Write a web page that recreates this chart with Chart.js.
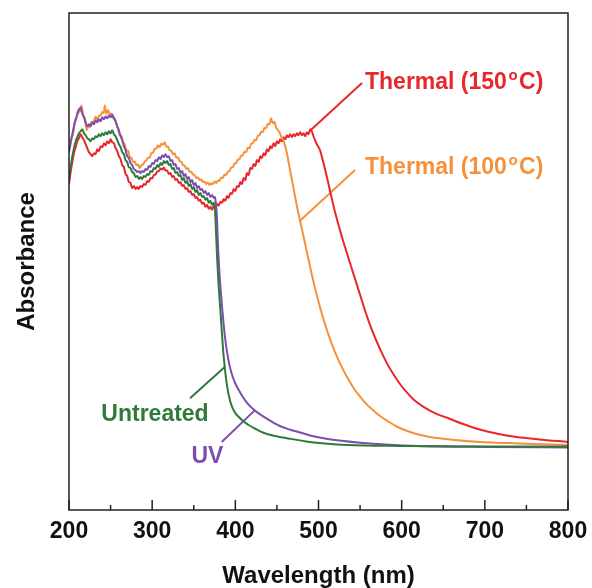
<!DOCTYPE html>
<html>
<head>
<meta charset="utf-8">
<script src="https://cdn.jsdelivr.net/npm/chart.js@4.4.1/dist/chart.umd.min.js"></script>
<style>
  html, body { margin: 0; padding: 0; background: #fff; }
  #wrap { width: 592px; height: 588px; }
</style>
</head>
<body>
<div id="wrap"><canvas id="spectra" width="592" height="588"></canvas></div>
<script>
// ── COLOURS ──
const COLORS = {
  red:    '#E8262B',
  orange: '#F5913C',
  green:  '#2E7A3B',
  purple: '#7E4DB2',
  frame:  '#222222',
  text:   '#111111'
};
const FONT = "'Liberation Sans', Arial, sans-serif";

// ── AXIS TICKS ──
const majorTicks = [200, 300, 400, 500, 600, 700, 800];
const minorTicks = [250, 350, 450, 550, 650, 750];

// ── UNTREATED ──
const wlUntreated = [200,202,204,206,208,210,212,214,216,218,220,222,224,226,228,230,232,234,236,238,240,242,244,246,248,250,252,254,256,258,260,262,264,266,268,270,272,274,276,278,280,282,284,286,288,290,292,294,296,298,300,302,304,306,308,310,312,314,316,318,320,322,324,326,328,330,332,334,336,338,340,342,344,346,348,350,352,354,356,358,360,362,364,366,368,370,372,374,
  375,376,377,378,379.5,381,382.5,384,385.5,387,389,391.5,394,397,400,403.6,410,416,423.6,433,445,463.7,485,507.8,534,600,700,800];
const absUntreated = [0.670,0.690,0.712,0.728,0.742,0.750,0.758,0.762,0.766,0.758,0.754,0.748,0.746,0.742,0.748,0.746,0.752,0.750,0.756,0.752,0.758,0.754,0.760,0.756,0.762,0.758,0.764,0.756,0.752,0.744,0.736,0.730,0.720,0.716,0.704,0.700,0.690,0.688,0.680,0.678,0.670,0.672,0.666,0.670,0.666,0.672,0.670,0.676,0.674,0.682,0.680,0.688,0.686,0.694,0.690,0.698,0.694,0.702,0.698,0.702,0.694,0.696,0.686,0.688,0.678,0.680,0.672,0.674,0.664,0.668,0.658,0.662,0.652,0.656,0.646,0.650,0.640,0.644,0.634,0.638,0.630,0.632,0.624,0.628,0.618,0.622,0.614,0.618,
  0.612,0.590,0.550,0.510,0.463,0.425,0.390,0.352,0.318,0.292,0.262,0.236,0.218,0.204,0.195,0.188,0.178,0.171,0.164,0.156,0.150,0.144,0.138,0.134,0.131,0.129,0.128,0.128];

// ── UV ──
const wlUV = [200,202,204,206,208,210,212,214,216,218,220,222,224,226,228,230,232,234,236,238,240,242,244,246,248,250,252,254,256,258,260,262,264,266,268,270,272,274,276,278,280,282,284,286,288,290,292,294,296,298,300,302,304,306,308,310,312,314,316,318,320,322,324,326,328,330,332,334,336,338,340,342,344,346,348,350,352,354,356,358,360,362,364,366,368,370,372,374,
  375.5,376.5,377.6,378.5,379.5,381,382.5,384,386,388,390,392.5,395.5,399.6,405.6,411.6,417,423.6,433,443.7,455,465,475.7,490,507.8,525,553.5,580,620,700,800];
const absUV = [0.720,0.738,0.756,0.772,0.786,0.796,0.806,0.810,0.798,0.790,0.780,0.772,0.776,0.772,0.780,0.776,0.784,0.780,0.786,0.782,0.790,0.786,0.792,0.788,0.794,0.790,0.796,0.788,0.782,0.772,0.764,0.752,0.744,0.732,0.724,0.712,0.708,0.698,0.694,0.686,0.684,0.680,0.682,0.678,0.682,0.680,0.686,0.684,0.692,0.690,0.698,0.696,0.704,0.702,0.710,0.706,0.714,0.710,0.716,0.710,0.712,0.702,0.704,0.694,0.696,0.686,0.688,0.678,0.682,0.672,0.676,0.666,0.670,0.660,0.664,0.654,0.658,0.648,0.652,0.644,0.646,0.638,0.642,0.634,0.638,0.630,0.634,0.628,
  0.630,0.618,0.598,0.560,0.520,0.475,0.440,0.410,0.372,0.342,0.318,0.295,0.275,0.256,0.237,0.221,0.210,0.200,0.189,0.178,0.168,0.162,0.157,0.150,0.144,0.140,0.135,0.132,0.129,0.127,0.126];

// ── THERMAL 100 C ──
const wlThermal100 = [200,203,205,207,209,211,213,215,217,219,221,223,225,227,229,232,234,236,238,240,242,243,245,247,249,251,253,
  255,257,259,261,263,265,267,269,271,273,275,277,279,281,283,285,287,289,291,293,295,297,299,301,303,305,307,309,311,313,315,317,319,321,323,325,327,329,331,333,335,337,339,341,343,345,347,349,351,353,355,357,359,361,363,365,367,369,371,373,375,377,379,381,383,385,387,389,391,393,395,397,399,401,403,405,407,409,411,413,415,417,419,421,423,425,427,429,431,433,435,437,439,441,443,445,447,449,451,453,455,
  457.7,460,462,464,467.8,471,474,477.8,481,484,487.5,491.8,495,498,501,504,508,512,516,520,525,530,535.5,542,549,556,564,574,584,594,605,620,634,664,694,740,800];
const absThermal100 = [0.735,0.750,0.757,0.781,0.788,0.804,0.801,0.814,0.794,0.789,0.764,0.772,0.770,0.781,0.779,0.791,0.785,0.793,0.794,0.801,0.799,0.814,0.797,0.805,0.795,0.798,0.789,
  0.788,0.777,0.766,0.754,0.753,0.740,0.736,0.724,0.723,0.710,0.709,0.700,0.701,0.694,0.695,0.688,0.694,0.695,0.701,0.703,0.709,0.709,0.718,0.719,0.727,0.727,0.734,0.730,0.737,0.735,0.740,0.731,0.731,0.724,0.723,0.716,0.718,0.709,0.710,0.702,0.701,0.694,0.693,0.686,0.688,0.680,0.681,0.675,0.674,0.668,0.669,0.664,0.665,0.660,0.661,0.656,0.659,0.654,0.657,0.656,0.661,0.658,0.663,0.662,0.669,0.668,0.675,0.674,0.681,0.682,0.689,0.690,0.697,0.698,0.705,0.706,0.713,0.714,0.721,0.720,0.729,0.728,0.737,0.738,0.745,0.744,0.753,0.754,0.761,0.760,0.769,0.768,0.777,0.776,0.788,0.778,0.781,0.770,0.765,0.760,0.752,
  0.744,0.732,0.718,0.700,0.666,0.638,0.612,0.582,0.558,0.535,0.508,0.475,0.452,0.432,0.413,0.395,0.373,0.353,0.334,0.317,0.298,0.281,0.264,0.246,0.230,0.216,0.203,0.189,0.178,0.168,0.160,0.152,0.147,0.141,0.137,0.134,0.131];

// ── THERMAL 150 C ──
const wlThermal150 = [200,202,204,206,208,210,212,214,216,218,220,222,224,226,228,230,232,234,236,238,240,242,244,246,248,250,252,254,256,258,260,262,264,266,268,270,272,274,276,278,280,282,284,286,288,290,292,294,296,298,300,302,304,306,308,310,312,314,316,318,320,322,324,326,328,330,332,334,336,338,340,342,344,346,348,350,352,354,356,358,360,362,364,366,368,370,372,374,376,378,380,382,384,386,388,390,392,394,396,398,400,402,404,406,408,410,412,414,416,418,420,422,424,426,428,430,432,434,436,438,440,442,444,446,448,450,452,454,456,458,460,462,464,466,468,470,472,474,476,478,480,482,484,486,488,
  490,492,494,495.8,498,501.8,504,507.8,510.8,513.8,516.8,519.8,524,527.9,533,537.9,543,547.9,553,558,562,566,570,574,579,584,589,594,600,607,614,624,634,644,654,674,694,714,734,765,800];
const absThermal150 = [0.655,0.680,0.700,0.718,0.730,0.742,0.748,0.756,0.750,0.744,0.736,0.728,0.720,0.716,0.712,0.718,0.716,0.726,0.722,0.732,0.730,0.738,0.734,0.742,0.738,0.746,0.740,0.738,0.728,0.722,0.712,0.706,0.694,0.690,0.676,0.672,0.660,0.658,0.648,0.652,0.646,0.650,0.646,0.652,0.650,0.656,0.654,0.662,0.660,0.668,0.667,0.674,0.675,0.681,0.682,0.687,0.685,0.689,0.683,0.683,0.676,0.678,0.670,0.672,0.664,0.666,0.658,0.660,0.652,0.654,0.646,0.648,0.640,0.642,0.634,0.636,0.628,0.630,0.622,0.624,0.616,0.618,0.610,0.614,0.606,0.610,0.604,0.612,0.608,0.616,0.612,0.620,0.618,0.626,0.622,0.632,0.628,0.638,0.636,0.646,0.642,0.652,0.650,0.660,0.656,0.668,0.664,0.678,0.674,0.688,0.686,0.696,0.692,0.704,0.700,0.712,0.708,0.718,0.714,0.726,0.722,0.732,0.728,0.738,0.732,0.742,0.738,0.746,0.742,0.750,0.746,0.754,0.750,0.756,0.750,0.756,0.752,0.758,0.754,0.760,0.754,0.758,0.752,0.760,0.756,
  0.766,0.762,0.752,0.744,0.736,0.724,0.711,0.686,0.665,0.643,0.621,0.600,0.574,0.551,0.523,0.497,0.470,0.444,0.417,0.391,0.372,0.355,0.339,0.324,0.306,0.290,0.276,0.263,0.249,0.235,0.223,0.210,0.200,0.192,0.186,0.173,0.162,0.154,0.148,0.142,0.137];

// ── LABEL POINTERS (wavelength, absorbance) ──
const ptrThermal150 = [[489.8, 0.763], [552.3, 0.859]];
const ptrThermal100 = [[477.8, 0.582], [543.9, 0.684]];
const ptrUntreated  = [[345.5, 0.225], [387.6, 0.288]];
const ptrUV         = [[383.6, 0.137], [423.6, 0.201]];

// ── SERIES LABELS (anchor wavelength, absorbance) ──
const seriesLabels = [
  { text: 'Thermal (150', sup: 'o', tail: 'C)', x: 555.9, y: 0.859, color: COLORS.red,    align: 'left' },
  { text: 'Thermal (100', sup: 'o', tail: 'C)', x: 555.9, y: 0.688, color: COLORS.orange, align: 'left' },
  { text: 'Untreated', x: 303.4, y: 0.191, color: COLORS.green,  align: 'center' },
  { text: 'UV',        x: 366.5, y: 0.107, color: COLORS.purple, align: 'center' }
];

const toPts = (xs, ys) => xs.map((x, i) => ({ x, y: ys[i] }));
const pairPts = arr => arr.map(p => ({ x: p[0], y: p[1] }));

function spectrum(label, xs, ys, color) {
  return { label, data: toPts(xs, ys), borderColor: color, backgroundColor: color,
           showLine: true, pointRadius: 0, borderWidth: 2, cubicInterpolationMode: 'monotone',
           borderJoinStyle: 'round' };
}
function pointer(data, color) {
  return { label: '', data: pairPts(data), borderColor: color, showLine: true,
           pointRadius: 0, borderWidth: 2, clip: false };
}

// ── FRAME + INWARD TICKS ──
const framePlugin = {
  id: 'frame',
  afterDraw(chart) {
    const { ctx, chartArea: a, scales: { x } } = chart;
    ctx.save();
    ctx.strokeStyle = COLORS.frame;
    ctx.lineWidth = 1.5;
    ctx.strokeRect(a.left, a.top, a.right - a.left, a.bottom - a.top);
    ctx.beginPath();
    majorTicks.forEach(v => { const px = x.getPixelForValue(v); ctx.moveTo(px, a.bottom); ctx.lineTo(px, a.bottom - 10); });
    minorTicks.forEach(v => { const px = x.getPixelForValue(v); ctx.moveTo(px, a.bottom); ctx.lineTo(px, a.bottom - 5); });
    ctx.stroke();
    ctx.restore();
  }
};

// ── SERIES LABELS ──
const labelPlugin = {
  id: 'seriesLabels',
  afterDatasetsDraw(chart) {
    const { ctx, scales: { x, y } } = chart;
    ctx.save();
    ctx.textBaseline = 'middle';
    seriesLabels.forEach(l => {
      const px = x.getPixelForValue(l.x), py = y.getPixelForValue(l.y);
      ctx.fillStyle = l.color;
      ctx.font = `bold 23px ${FONT}`;
      if (!l.sup) {
        ctx.textAlign = l.align;
        ctx.fillText(l.text, px, py);
        return;
      }
      ctx.textAlign = 'left';
      let cx = px;
      ctx.fillText(l.text, cx, py);
      cx += ctx.measureText(l.text).width + 1.5;
      ctx.font = `bold 15px ${FONT}`;
      ctx.fillText(l.sup, cx, py - 7);
      cx += ctx.measureText(l.sup).width + 1.5;
      ctx.font = `bold 23px ${FONT}`;
      ctx.fillText(l.tail, cx, py);
    });
    ctx.restore();
  }
};

new Chart(document.getElementById('spectra'), {
  type: 'scatter',
  data: {
    datasets: [
      spectrum('Untreated', wlUntreated, absUntreated, COLORS.green),
      spectrum('UV', wlUV, absUV, COLORS.purple),
      spectrum('Thermal (100 C)', wlThermal100, absThermal100, COLORS.orange),
      spectrum('Thermal (150 C)', wlThermal150, absThermal150, COLORS.red),
      pointer(ptrThermal150, COLORS.red),
      pointer(ptrThermal100, COLORS.orange),
      pointer(ptrUntreated, COLORS.green),
      pointer(ptrUV, COLORS.purple)
    ]
  },
  options: {
    responsive: false,
    animation: false,
    layout: { padding: { left: 0, top: 13, right: 24, bottom: 0 } },
    plugins: { legend: { display: false }, tooltip: { enabled: false } },
    scales: {
      x: {
        type: 'linear', min: 200, max: 800,
        afterBuildTicks: s => { s.ticks = majorTicks.map(v => ({ value: v })); },
        afterFit: s => { s.height = 78; s.paddingLeft = 0; s.paddingRight = 0; },
        grid: { display: false, drawTicks: false },
        border: { display: false },
        ticks: { color: COLORS.text, padding: 8, font: { family: FONT, size: 23, weight: 'bold' } },
        title: { display: true, text: 'Wavelength (nm)', color: COLORS.text,
                 padding: { top: 0, bottom: 0 }, font: { family: FONT, size: 24, weight: 'bold', lineHeight: 1 } }
      },
      y: {
        min: 0, max: 1,
        afterFit: s => { s.width = 69; },
        grid: { display: false, drawTicks: false },
        border: { display: false },
        ticks: { display: false },
        title: { display: true, text: 'Absorbance', color: COLORS.text,
                 padding: { top: 15, bottom: 0 }, font: { family: FONT, size: 24, weight: 'bold', lineHeight: 1 } }
      }
    }
  },
  plugins: [framePlugin, labelPlugin]
});
</script>
</body>
</html>
